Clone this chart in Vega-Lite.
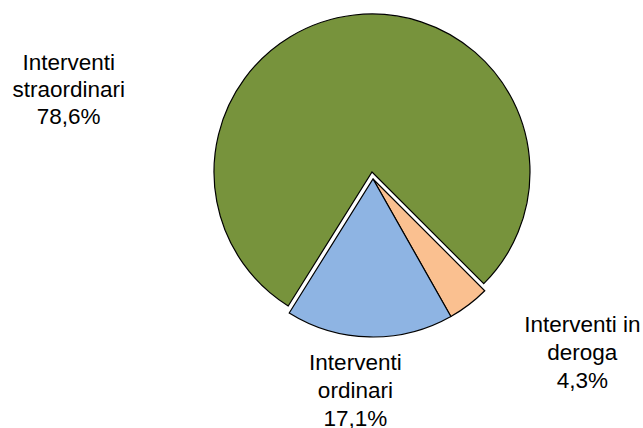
{
  "$schema": "https://vega.github.io/schema/vega-lite/v6.json",
  "width": 320,
  "height": 320,
  "autosize": {"type": "none"},
  "padding": {"left": 213, "top": 19, "right": 110, "bottom": 89},
  "background": "white",
  "config": {"view": {"stroke": null}},
  "data": {
    "values": [
      {"category": "Interventi in deroga", "value": 4.3, "label": "Interventi in\nderoga\n4,3%"},
      {"category": "Interventi ordinari", "value": 17.1, "label": "Interventi\nordinari\n17,1%"},
      {"category": "Interventi straordinari", "value": 78.6, "label": "Interventi\nstraordinari\n78,6%"}
    ]
  },
  "encoding": {
    "theta": {"field": "value", "type": "quantitative", "stack": true, "scale": {"domain": [0, 100], "range": [2.356, 8.639]}},
    "order": {"field": "category", "sort": "ascending"}
  },
  "layer": [
    {
      "mark": {"type": "arc", "radius": 158, "stroke": "black", "strokeWidth": 1.2},
      "encoding": {
        "color": {"field": "category", "type": "nominal", "legend": null,
          "scale": {"domain": ["Interventi in deroga", "Interventi ordinari", "Interventi straordinari"], "range": ["#FAC090", "#8EB4E3", "#77933C"]}},
        "opacity": {"condition": {"test": "datum.category == 'Interventi straordinari'", "value": 0}, "value": 1}
      }
    },
    {
      "mark": {"type": "arc", "radius": 158, "stroke": "black", "strokeWidth": 1.2, "xOffset": -1, "yOffset": -7},
      "encoding": {
        "color": {"field": "category", "type": "nominal", "legend": null},
        "opacity": {"condition": {"test": "datum.category == 'Interventi straordinari'", "value": 1}, "value": 0}
      }
    },
    {
      "mark": {"type": "text", "radius": 100, "dx": -293, "dy": -17, "font": "Liberation Sans", "fontSize": 22.5, "lineHeight": 27, "lineBreak": "\n", "align": "center", "baseline": "middle", "color": "black"},
      "encoding": {
        "text": {"condition": {"test": "datum.category == 'Interventi straordinari'", "field": "label"}, "value": ""}
      }
    },
    {
      "mark": {"type": "text", "radius": 212, "dx": -13, "dy": -28, "font": "Liberation Sans", "fontSize": 22.5, "lineHeight": 28, "lineBreak": "\n", "align": "center", "baseline": "middle", "color": "black"},
      "encoding": {
        "text": {"condition": {"test": "datum.category == 'Interventi ordinari'", "field": "label"}, "value": ""}
      }
    },
    {
      "mark": {"type": "text", "radius": 230, "dx": 70, "dy": -37, "font": "Liberation Sans", "fontSize": 22.5, "lineHeight": 28, "lineBreak": "\n", "align": "center", "baseline": "middle", "color": "black"},
      "encoding": {
        "text": {"condition": {"test": "datum.category == 'Interventi in deroga'", "field": "label"}, "value": ""}
      }
    }
  ]
}
